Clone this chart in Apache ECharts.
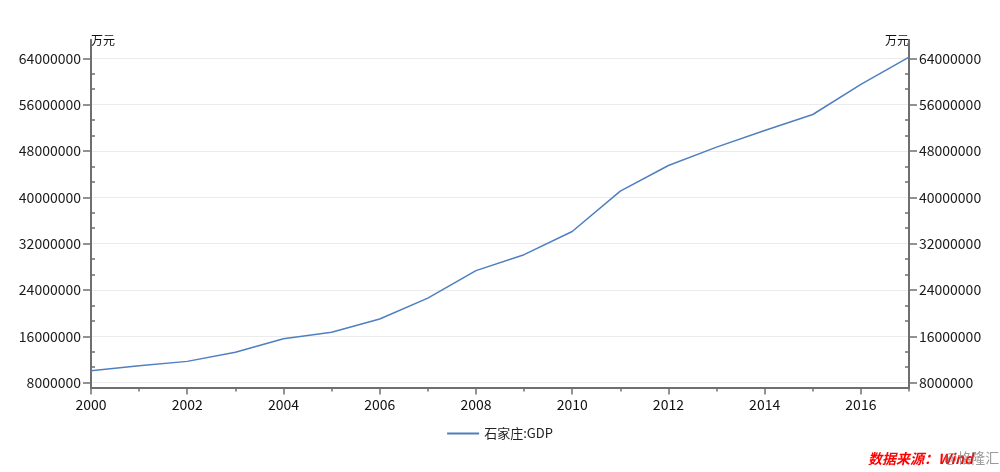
<!DOCTYPE html>
<html>
<head>
<meta charset="utf-8">
<script src="https://cdn.jsdelivr.net/npm/echarts@6/dist/echarts.min.js"></script>
<style>html,body{margin:0;padding:0;background:#fff}#c{width:1000px;height:472px}</style>
</head>
<body>
<div id="c"></div>
<script>
const years = [2000,2001,2002,2003,2004,2005,2006,2007,2008,2009,2010,2011,2012,2013,2014,2015,2016,2017];
const gdp = [10070000,10940000,11680000,13240000,15600000,16700000,19000000,22600000,27350000,30100000,34100000,41060000,45500000,48660000,51550000,54300000,59500000,64200000];
const seriesName = '石家庄:GDP';
const unitName = '万元';
const yMajor = [8000000,16000000,24000000,32000000,40000000,48000000,56000000,64000000];
const yMinor = [10666667,13333333,18666667,21333333,26666667,29333333,34666667,37333333,42666667,45333333,50666667,53333333,58666667,61333333];
const xMajor = [2000,2002,2004,2006,2008,2010,2012,2014,2016];
const xMinor = [2001,2003,2005,2007,2009,2011,2013,2015,2017];
const yMin = 7170000, yMax = 67160000;

const font = 'Noto Sans CJK SC';
const axisColor = '#6f6f6f';
const chart = echarts.init(document.getElementById('c'));

function yAx(pos, withLabels, ticks, inside, len, name) {
  return {
    type: 'value', position: pos, min: yMin, max: yMax,
    name: name || '', nameLocation: 'end', nameGap: -6,
    nameTextStyle: {fontFamily: font, fontSize: 12, color: '#111', align: pos === 'left' ? 'left' : 'right'},
    axisLine: {show: true, lineStyle: {color: axisColor, width: 2}},
    axisTick: {show: true, inside: inside, length: len, customValues: ticks, lineStyle: {color: axisColor, width: 1.5}},
    axisLabel: {show: withLabels, customValues: withLabels ? yMajor : undefined, formatter: v => String(Math.round(v)), fontFamily: font, fontSize: 14, color: '#1a1a1a', margin: 10},
    splitLine: {show: withLabels && pos === 'left', lineStyle: {color: '#ebebeb', width: 1}},
    minorTick: {show: false}
  };
}

const option = {
  animation: false,
  backgroundColor: '#fff',
  grid: {left: 91, right: 91, top: 40, bottom: 84.5, containLabel: false},
  xAxis: [
    {
      type: 'value', min: 2000, max: 2017, position: 'bottom',
      axisLine: {onZero: false, lineStyle: {color: axisColor, width: 2}},
      axisTick: {show: true, length: 7, customValues: xMajor, lineStyle: {color: axisColor, width: 1.5}},
      axisLabel: {customValues: xMajor, formatter: v => String(v), fontFamily: font, fontSize: 14, color: '#111', margin: 10},
      splitLine: {show: false}
    },
    {
      type: 'value', min: 2000, max: 2017, position: 'bottom',
      axisLine: {onZero: false, lineStyle: {color: axisColor, width: 2}},
      axisTick: {show: true, length: 4, customValues: xMinor, lineStyle: {color: axisColor, width: 1.5}},
      axisLabel: {show: false},
      splitLine: {show: false}
    }
  ],
  yAxis: [
    yAx('left', true, yMajor, false, 8, unitName),
    yAx('left', false, yMinor, true, 4),
    yAx('right', true, yMajor, false, 8, unitName),
    yAx('right', false, yMinor, true, 4)
  ],
  legend: {
    bottom: 27, left: 'center',
    icon: 'rect', itemWidth: 32, itemHeight: 2, itemGap: 10,
    textStyle: {fontFamily: font, fontSize: 13, color: '#222'},
    data: [seriesName]
  },
  series: [{
    name: seriesName, type: 'line', xAxisIndex: 0, yAxisIndex: 0,
    symbol: 'none', smooth: false,
    lineStyle: {color: '#4f7fc0', width: 1.5},
    itemStyle: {color: '#4f7fc0'},
    data: years.map((y, i) => [y, gdp[i]])
  }],
  graphic: [
    {type: 'text', left: 868, top: 452, style: {text: '数据来源：Wind', fill: '#ff0000', font: 'italic bold 14px "Noto Sans CJK SC"'}},
    {type: 'text', left: 944, top: 451, style: {text: '@格隆汇', fill: 'rgba(120,120,120,0.75)', font: '14px "Noto Sans CJK SC"'}}
  ]
};
chart.setOption(option);
</script>
</body>
</html>
